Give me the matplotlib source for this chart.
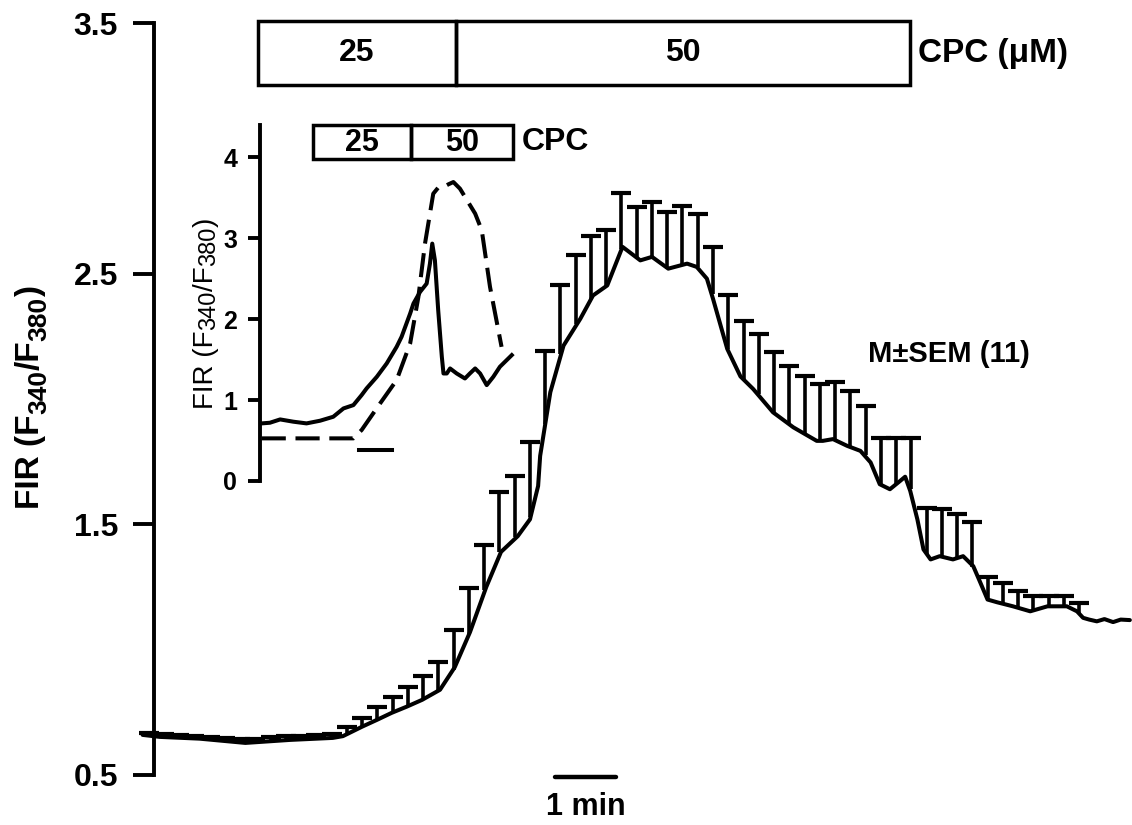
import numpy as np
import matplotlib
matplotlib.use("Agg")
import matplotlib.pyplot as plt
from matplotlib.patches import Rectangle

plt.rcParams['font.family'] = ['Liberation Sans', 'DejaVu Sans']

# ---------------- data: main trace (time in s, FIR) ----------------
line_t = [-6, 11, 50, 95, 139, 181, 191, 210, 224.5, 239, 254, 269, 286.5, 301, 316,
          332, 346.5, 363, 375, 383, 385, 395, 408, 424.5, 437, 451, 466, 483.5, 495,
          511, 529.5, 539, 549, 555, 569, 582, 594.5, 614, 634, 657, 663, 673, 687,
          700, 710, 719, 729, 739, 744, 749, 756, 762, 769, 778, 791, 801, 811, 818,
          825, 834.5, 850, 867, 884, 903, 913, 919, 925, 932.5, 940, 948.5, 956, 965]
line_v = [0.660, 0.652, 0.645, 0.628, 0.640, 0.648, 0.655, 0.693, 0.720, 0.748, 0.773,
          0.800, 0.840, 0.930, 1.070, 1.250, 1.390, 1.453, 1.520, 1.653, 1.773, 2.027,
          2.213, 2.320, 2.413, 2.453, 2.607, 2.553, 2.567, 2.520, 2.540, 2.527, 2.480,
          2.400, 2.200, 2.090, 2.040, 1.947, 1.887, 1.833, 1.833, 1.840, 1.813, 1.793,
          1.747, 1.660, 1.640, 1.673, 1.690, 1.633, 1.520, 1.400, 1.360, 1.373, 1.360,
          1.373, 1.333, 1.267, 1.200, 1.189, 1.173, 1.153, 1.173, 1.173, 1.153, 1.127,
          1.120, 1.113, 1.122, 1.110, 1.120, 1.118]

# error bars every 15 s: mean and mean+SEM
sample_dt = 15.0
bar_mean = [0.655, 0.652, 0.648, 0.644, 0.640, 0.636, 0.632, 0.632, 0.636, 0.640, 0.642,
            0.644, 0.646, 0.660, 0.690, 0.720, 0.748, 0.775, 0.800, 0.835, 0.920, 1.060,
            1.240, 1.390, 1.450, 1.530, 1.900, 2.180, 2.300, 2.400, 2.450, 2.600, 2.560,
            2.565, 2.520, 2.535, 2.525, 2.420, 2.200, 2.080, 2.020, 1.945, 1.900, 1.860,
            1.833, 1.840, 1.810, 1.775, 1.655, 1.660, 1.640, 1.380, 1.372, 1.365, 1.330,
            1.200, 1.185, 1.170, 1.155, 1.172, 1.173, 1.145]
bar_top = [0.668, 0.665, 0.660, 0.656, 0.652, 0.648, 0.644, 0.645, 0.650, 0.654, 0.657,
           0.660, 0.664, 0.691, 0.728, 0.770, 0.811, 0.851, 0.893, 0.952, 1.080, 1.245,
           1.418, 1.627, 1.693, 1.828, 2.193, 2.456, 2.576, 2.651, 2.673, 2.820, 2.767,
           2.784, 2.747, 2.771, 2.740, 2.607, 2.413, 2.311, 2.260, 2.187, 2.133, 2.093,
           2.060, 2.069, 2.033, 1.973, 1.843, 1.843, 1.845, 1.567, 1.560, 1.540, 1.509,
           1.291, 1.264, 1.233, 1.213, 1.213, 1.213, 1.187]

# CPC application periods (s) and concentrations
cpc_edges = [107.5, 302.0, 748.6]
cpc_labels = ["25", "50"]

# ---------------- data: inset (time in min, FIR) ----------------
in_solid_t = [0.05, 0.30, 0.61, 1.01, 1.41, 1.82, 2.22, 2.53, 2.83, 3.08, 3.23, 3.54,
              3.84, 4.14, 4.29, 4.55, 4.65, 4.85, 5.05, 5.15, 5.22, 5.30, 5.40, 5.51,
              5.56, 5.66, 5.76, 5.96, 6.21, 6.36, 6.52, 6.67, 6.87, 7.07, 7.27, 7.63]
in_solid_v = [0.712, 0.720, 0.761, 0.733, 0.712, 0.745, 0.794, 0.897, 0.938, 1.062,
              1.144, 1.288, 1.453, 1.658, 1.782, 2.070, 2.193, 2.337, 2.440, 2.687,
              2.934, 2.728, 2.111, 1.535, 1.329, 1.329, 1.391, 1.329, 1.267, 1.329,
              1.391, 1.329, 1.185, 1.288, 1.412, 1.556]
in_dash_t = [0.05, 2.83, 3.08, 3.64, 4.14, 4.55, 4.80, 5.00, 5.25, 5.40, 5.56, 5.71,
             5.86, 6.06, 6.52, 6.72, 6.97, 7.32]
in_dash_v = [0.527, 0.527, 0.630, 0.959, 1.247, 1.700, 2.276, 2.934, 3.551, 3.626,
             3.634, 3.667, 3.695, 3.613, 3.305, 3.099, 2.399, 1.658]
in_cpc_edges = [1.606, 4.576, 7.667]
in_cpc_labels = ["25", "50"]

# ---------------- figure ----------------
W, H = 1132, 825
fig = plt.figure(figsize=(W / 100, H / 100), dpi=100)
fig.patch.set_facecolor('white')
renderer = fig.canvas.get_renderer()

def px2fx(x):
    return x / W

def px2fy(y):
    return 1 - y / H

def vertical_label(x_base_px, y_bottom_px, pieces):
    """Stack rotated text pieces upward; pieces: (text, size, dx_px, weight)."""
    y = H - y_bottom_px
    for txt, size, dx, weight in pieces:
        t = fig.text((x_base_px + dx) / W, y / H, txt, rotation=90,
                     rotation_mode='anchor', ha='left', va='baseline',
                     fontsize=size, fontweight=weight)
        bb = t.get_window_extent(renderer)
        y += bb.height

ax = fig.add_axes([px2fx(130), px2fy(775), (1132 - 130) / W, (775 - 23) / H])
ax.set_facecolor('none')
ax.set_xlim(-18.4, 967.1)
ax.set_ylim(0.5, 3.5)
for s in ['top', 'right', 'bottom']:
    ax.spines[s].set_visible(False)
ax.spines['left'].set_position(('data', 5.2))
ax.spines['left'].set_linewidth(2.8)
ax.set_xticks([])
ax.set_yticks([0.5, 1.5, 2.5, 3.5])
ax.set_yticklabels(["0.5", "1.5", "2.5", "3.5"])
ax.tick_params(axis='y', direction='out', length=15, width=2.8, pad=11,
               labelsize=23)
for lab in ax.get_yticklabels():
    lab.set_fontweight('bold')

lw = 2.9
ax.plot(line_t, line_v, color='black', lw=lw, solid_joinstyle='round',
        solid_capstyle='round', zorder=3)
bar_t = np.arange(len(bar_mean)) * sample_dt
ax.vlines(bar_t, bar_mean, bar_top, color='black', lw=2.6, zorder=3)
ax.plot(bar_t, bar_top, linestyle='none', marker='_', markersize=15,
        markeredgewidth=3.0, color='black', zorder=3)

# CPC bar on top
y0, y1 = 3.252, 3.508
for i in range(len(cpc_labels)):
    ax.add_patch(Rectangle((cpc_edges[i], y0), cpc_edges[i + 1] - cpc_edges[i],
                           y1 - y0, fill=False, lw=2.5, ec='black', clip_on=False))
    ax.text((cpc_edges[i] + cpc_edges[i + 1]) / 2, (y0 + y1) / 2, cpc_labels[i],
            ha='center', va='center', fontsize=23, fontweight='bold')
ax.text(757, (y0 + y1) / 2, "CPC (\u03bcM)", ha='left', va='center',
        fontsize=24, fontweight='bold')

ax.text(707.5, 2.18, "M\u00b1SEM (11)", ha='left', va='center', fontsize=21,
        fontweight='bold')

# time scale bar
ax.plot([399.6, 459.6], [0.492, 0.492], color='black', lw=3.2, clip_on=False,
        solid_capstyle='round')
ax.text(429.6, 0.372, "1 min", ha='center', va='center', fontsize=22,
        fontweight='bold')

vertical_label(39, 509, [("FIR (F", 24, 0, 'bold'), ("340", 19, 7, 'bold'),
                         ("/F", 24, 0, 'bold'), ("380", 19, 7, 'bold'),
                         (")", 24, 0, 'bold')])

# ---------------- inset ----------------
ai = fig.add_axes([px2fx(260), px2fy(481), (520 - 260) / W, (481 - 125) / H])
ai.set_facecolor('none')
ai.set_xlim(0, (520 - 260) / 33)
ai.set_ylim(0, 4.4)
for s in ['top', 'right', 'bottom']:
    ai.spines[s].set_visible(False)
ai.spines['left'].set_linewidth(2.8)
ai.set_xticks([])
ai.set_yticks([0, 1, 2, 3, 4])
ai.tick_params(axis='y', direction='out', length=8.5, width=2.8, pad=8,
               labelsize=18)
for lab in ai.get_yticklabels():
    lab.set_fontweight('bold')

ai.plot(in_solid_t, in_solid_v, color='black', lw=lw, solid_joinstyle='round',
        clip_on=False)
ai.plot(in_dash_t, in_dash_v, color='black', lw=lw, linestyle=(0, (6, 2.4)),
        clip_on=False)
ai.plot([3.0, 4.0], [0.38, 0.38], color='black', lw=lw, clip_on=False)

iy0, iy1 = 3.98, 4.40
for i in range(len(in_cpc_labels)):
    ai.add_patch(Rectangle((in_cpc_edges[i], iy0), in_cpc_edges[i + 1] - in_cpc_edges[i],
                           iy1 - iy0, fill=False, lw=2.5, ec='black', clip_on=False))
    ai.text((in_cpc_edges[i] + in_cpc_edges[i + 1]) / 2, (iy0 + iy1) / 2 - 0.01,
            in_cpc_labels[i], ha='center', va='center', fontsize=22,
            fontweight='bold')
ai.text(7.94, (iy0 + iy1) / 2, "CPC", ha='left', va='center', fontsize=23,
        fontweight='bold')

vertical_label(213, 409, [("FIR (F", 20, 0, 'medium'), ("340", 17, 2, 'medium'),
                          ("/F", 20, 0, 'medium'), ("380", 17, 2, 'medium'),
                          (")", 20, 0, 'medium')])

fig.savefig("out.png", dpi=100, facecolor='white')
